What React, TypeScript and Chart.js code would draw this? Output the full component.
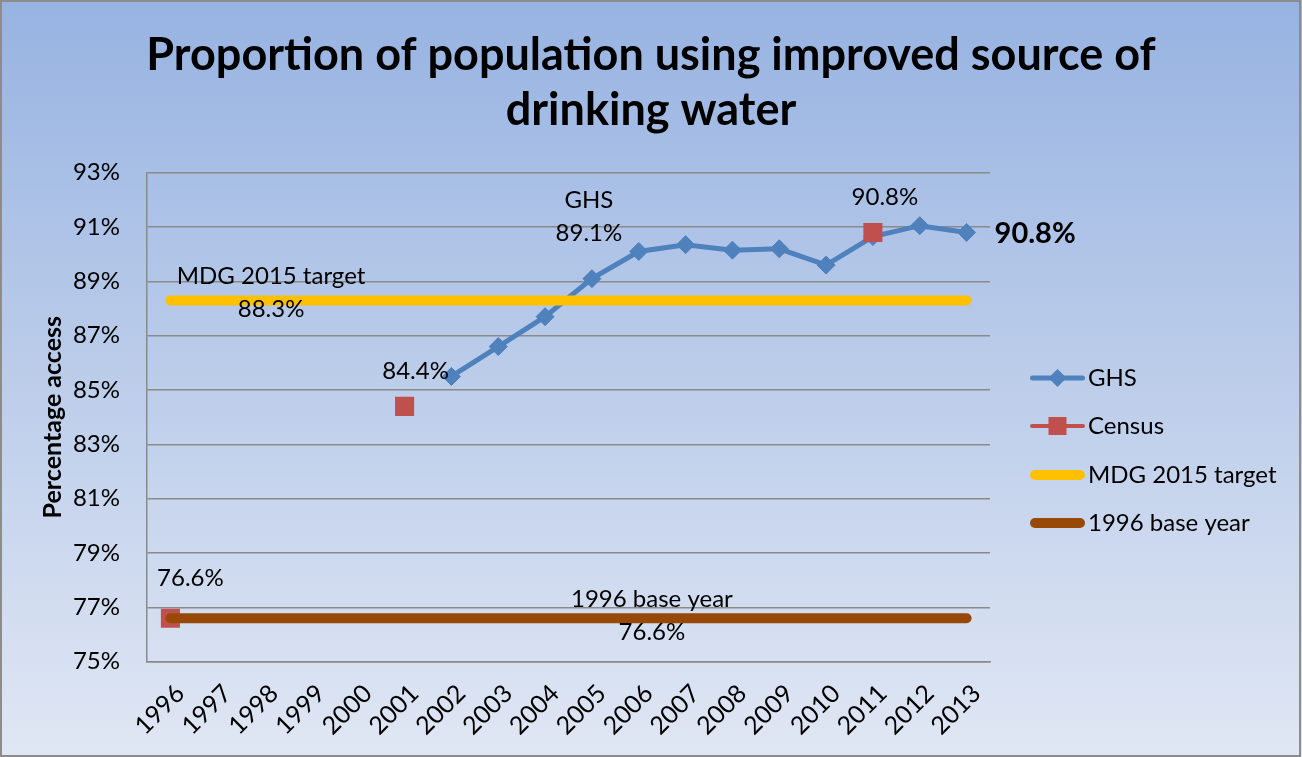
import React, { useEffect, useRef } from 'react';
import { Chart, registerables } from 'chart.js';

Chart.register(...registerables);

// Survey years on the category axis
const years = [
  '1996', '1997', '1998', '1999', '2000', '2001', '2002', '2003', '2004',
  '2005', '2006', '2007', '2008', '2009', '2010', '2011', '2012', '2013',
];

// General Household Survey (GHS) estimates, % of population
const ghs = [
  null, null, null, null, null, null, 85.5, 86.6, 87.7,
  89.1, 90.1, 90.35, 90.15, 90.2, 89.6, 90.65, 91.05, 90.8,
];

// Census estimates, % of population
const census = [
  76.6, null, null, null, null, 84.4, null, null, null,
  null, null, null, null, null, null, 90.8, null, null,
];

// MDG 2015 target level
const mdgTarget = [
  88.3, 88.3, 88.3, 88.3, 88.3, 88.3, 88.3, 88.3, 88.3,
  88.3, 88.3, 88.3, 88.3, 88.3, 88.3, 88.3, 88.3, 88.3,
];

// 1996 base-year level
const baseYear = [
  76.6, 76.6, 76.6, 76.6, 76.6, 76.6, 76.6, 76.6, 76.6,
  76.6, 76.6, 76.6, 76.6, 76.6, 76.6, 76.6, 76.6, 76.6,
];

const yMin = 75;
const yMax = 93;
const yStep = 2;

const titleLines = ['Proportion of population using improved source of', 'drinking water'];
const yAxisTitle = 'Percentage access';

const FONT = 'Lato, "Open Sans", sans-serif';
const GRID = '#8a8a8a';

const pct = (v: number) => v.toFixed(1) + '%';

// Text notes attached to individual points: offset of the text block centre from the point
const notes = [
  { ds: 1, idx: 0, lines: [pct(census[0] as number)], dx: 20, dy: -40, bold: false, align: 'center' },
  { ds: 1, idx: 5, lines: [pct(census[5] as number)], dx: 11, dy: -35, bold: false, align: 'center' },
  { ds: 1, idx: 15, lines: [pct(census[15] as number)], dx: 12, dy: -35, bold: false, align: 'center' },
  { ds: 0, idx: 9, lines: ['GHS', pct(ghs[9] as number)], dx: -3, dy: -62, bold: false, align: 'center' },
  { ds: 0, idx: 17, lines: [pct(ghs[17] as number)], dx: 28, dy: 1, bold: true, align: 'left' },
  { ds: 2, idx: 2, lines: ['MDG 2015 target', pct(mdgTarget[2])], dx: 7, dy: -8, bold: false, align: 'center' },
  { ds: 3, idx: 9, lines: ['1996 base year', pct(baseYear[9])], dx: 60, dy: -2, bold: false, align: 'center' },
];

const backgroundPlugin = {
  id: 'panelBackground',
  beforeDraw(chart: any) {
    const { ctx, width, height } = chart;
    ctx.save();
    const g = ctx.createLinearGradient(0, 0, 0, height);
    g.addColorStop(0, '#97b3e2');
    g.addColorStop(0.5, '#bccdea');
    g.addColorStop(1, '#e0e7f4');
    ctx.fillStyle = g;
    ctx.fillRect(0, 0, width, height);
    ctx.strokeStyle = '#8c8c8c';
    ctx.lineWidth = 2;
    ctx.strokeRect(1, 1, width - 3, height - 2);
    ctx.restore();
  },
};

const titlePlugin = {
  id: 'panelTitle',
  afterDraw(chart: any) {
    const { ctx, width } = chart;
    ctx.save();
    ctx.fillStyle = '#000';
    ctx.font = `bold 45px ${FONT}`;
    ctx.textAlign = 'center';
    ctx.textBaseline = 'middle';
    titleLines.forEach((t, i) => ctx.fillText(t, width / 2, 55 + i * 55));
    ctx.restore();
  },
};

const notesPlugin = {
  id: 'pointNotes',
  afterDatasetsDraw(chart: any) {
    const { ctx } = chart;
    ctx.save();
    ctx.fillStyle = '#000';
    ctx.textBaseline = 'middle';
    notes.forEach((n) => {
      const el = chart.getDatasetMeta(n.ds).data[n.idx];
      if (!el) return;
      const lh = 33;
      ctx.font = n.bold ? `bold 29px ${FONT}` : `24px ${FONT}`;
      ctx.textAlign = n.align;
      const cx = el.x + n.dx;
      const cy = el.y + n.dy;
      const top = cy - ((n.lines.length - 1) * lh) / 2;
      n.lines.forEach((t, i) => ctx.fillText(t, cx, top + i * lh));
    });
    ctx.restore();
  },
};

const legendPlugin = {
  id: 'sideLegend',
  afterDraw(chart: any) {
    const { ctx } = chart;
    const x0 = 1030;
    const x1 = 1085;
    const ys = [378, 426, 475, 523];
    const widths = [5, 4, 10, 10];
    ctx.save();
    chart.data.datasets.forEach((ds: any, i: number) => {
      const y = ys[i];
      ctx.strokeStyle = ds.borderColor;
      ctx.lineWidth = widths[i];
      ctx.lineCap = 'round';
      ctx.beginPath();
      ctx.moveTo(x0 + widths[i] / 2, y);
      ctx.lineTo(x1 - widths[i] / 2, y);
      ctx.stroke();
      const mx = (x0 + x1) / 2;
      ctx.fillStyle = ds.pointBackgroundColor;
      if (ds.pointStyle === 'rectRot') {
        const r = 9;
        ctx.beginPath();
        ctx.moveTo(mx, y - r);
        ctx.lineTo(mx + r, y);
        ctx.lineTo(mx, y + r);
        ctx.lineTo(mx - r, y);
        ctx.closePath();
        ctx.fill();
      } else if (ds.pointStyle === 'rect') {
        ctx.fillRect(mx - 9, y - 9, 18, 18);
      }
      ctx.fillStyle = '#000';
      ctx.font = `24px ${FONT}`;
      ctx.textAlign = 'left';
      ctx.textBaseline = 'middle';
      ctx.fillText(ds.label, 1088, y);
    });
    ctx.restore();
  },
};

export default function App() {
  const canvasRef = useRef<HTMLCanvasElement | null>(null);

  useEffect(() => {
    document.body.style.margin = '0';
    const canvas = canvasRef.current;
    if (!canvas) return;

    const chart = new Chart(canvas, {
      type: 'line',
      data: {
        labels: years,
        datasets: [
          {
            label: 'GHS',
            data: ghs,
            borderColor: '#4f81bd',
            backgroundColor: '#4f81bd',
            pointBackgroundColor: '#4f81bd',
            pointBorderColor: '#4f81bd',
            borderWidth: 5,
            pointStyle: 'rectRot',
            pointRadius: 9,
            pointBorderWidth: 1,
            spanGaps: false,
            order: 4,
          },
          {
            label: 'Census',
            data: census,
            borderColor: '#c0504d',
            backgroundColor: '#c0504d',
            pointBackgroundColor: '#c0504d',
            pointBorderColor: '#c0504d',
            showLine: false,
            pointStyle: 'rect',
            pointRadius: 13.5,
            pointBorderWidth: 0,
            order: 3,
          },
          {
            label: 'MDG 2015 target',
            data: mdgTarget,
            borderColor: '#ffc000',
            backgroundColor: '#ffc000',
            pointBackgroundColor: '#ffc000',
            borderWidth: 10,
            borderCapStyle: 'round',
            pointRadius: 0,
            order: 2,
          },
          {
            label: '1996 base year',
            data: baseYear,
            borderColor: '#984807',
            backgroundColor: '#984807',
            pointBackgroundColor: '#984807',
            borderWidth: 10,
            borderCapStyle: 'round',
            pointRadius: 0,
            order: 1,
          },
        ],
      },
      options: {
        responsive: false,
        animation: false,
        layout: { padding: { top: 172.7, right: 312, bottom: 0, left: 0 } },
        plugins: {
          legend: { display: false },
          title: { display: false },
          tooltip: { enabled: false },
        },
        scales: {
          x: {
            offset: true,
            grid: { display: false, drawTicks: false },
            border: { display: true, color: GRID, width: 1.5 },
            ticks: {
              color: '#000',
              font: { family: FONT, size: 25 },
              minRotation: 45,
              maxRotation: 45,
              padding: 17,
              labelOffset: 10,
              autoSkip: false,
            },
            afterFit(scale: any) {
              scale.height = 95.3;
            },
          },
          y: {
            min: yMin,
            max: yMax,
            grid: { color: GRID, lineWidth: 1.5, drawTicks: false },
            border: { display: true, color: GRID, width: 1.5 },
            ticks: {
              stepSize: yStep,
              color: '#000',
              font: { family: FONT, size: 24 },
              padding: 27,
              callback: (v: any) => v + '%',
            },
            title: {
              display: true,
              text: yAxisTitle,
              color: '#000',
              font: { family: FONT, size: 25, weight: 'bold' },
              padding: { top: 38, bottom: 0 },
            },
            afterFit(scale: any) {
              scale.width = 147;
            },
          },
        },
      },
      plugins: [backgroundPlugin, notesPlugin, titlePlugin, legendPlugin],
    } as any);

    return () => chart.destroy();
  }, []);

  return <canvas ref={canvasRef} width={1302} height={757} style={{ display: 'block' }} />;
}
